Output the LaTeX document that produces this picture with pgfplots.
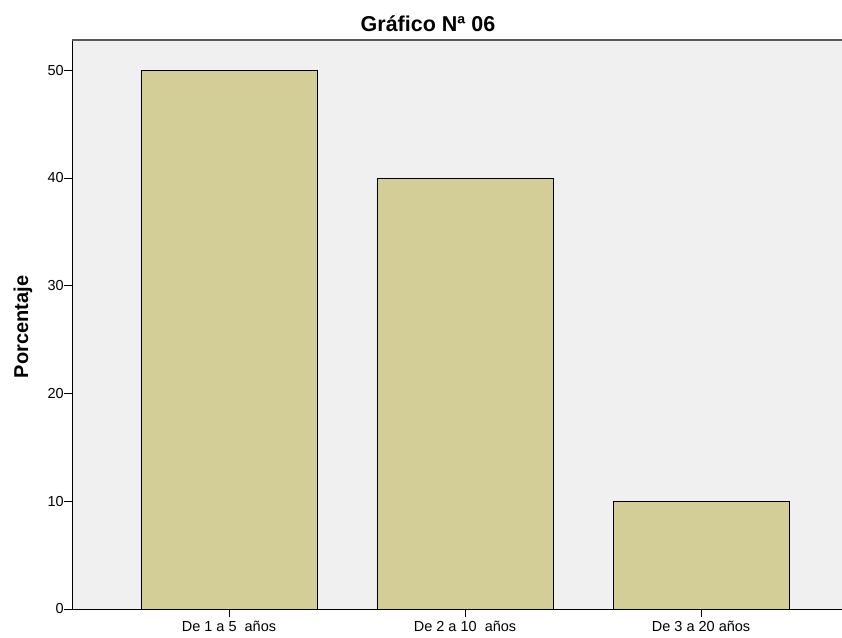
\documentclass[border=0pt]{standalone}
\usepackage{pgfplots}
\pgfplotsset{compat=1.18}
\usepackage{fontspec}
\setmainfont{Liberation Sans}
\definecolor{bgc}{RGB}{240,240,240}
\definecolor{barc}{RGB}{211,206,151}
\begin{document}
\begin{tikzpicture}[x=1pt,y=1pt]
\useasboundingbox (0,0) rectangle (842,637);
\begin{axis}[
  at={(72pt,28pt)}, anchor=south west,
  scale only axis, width=770pt, height=569pt,
  xmin=-0.665, xmax=2.597, ymin=0, ymax=52.8,
  axis background/.style={fill=bgc},
  axis x line*=bottom, axis y line*=left,
  axis line style={black, line width=0.9pt, -},
  xtick={0,1,2},
  xticklabels={De 1 a 5\ \ años, De 2 a 10\ \ años, De 3 a 20 años},
  ytick={0,10,20,30,40,50},
  tick align=outside, major tick length=8pt,
  tick style={black, line width=0.8pt},
  /pgf/number format/assume math mode=true,
  ticklabel style={font=\fontsize{14.5}{16}\selectfont, inner sep=1pt},
  xticklabel style={yshift=-3pt},
  yticklabel style={xshift=1pt},
  ybar, bar width=0.746,
  clip=false,
]
\addplot[fill=barc, draw=black, line width=0.8pt] coordinates {(0,50) (1,40) (2,10)};
\draw[gray!70!black, line width=1.2pt] (rel axis cs:0,1) -- (rel axis cs:1,1);
\end{axis}
\node[font=\bfseries\fontsize{21.5}{24}\selectfont, anchor=base] at (428,605) {Gráfico Nª 06};
\node[font=\bfseries\fontsize{20}{22}\selectfont, rotate=90, anchor=base] at (28,310) {Porcentaje};
\end{tikzpicture}
\end{document}
